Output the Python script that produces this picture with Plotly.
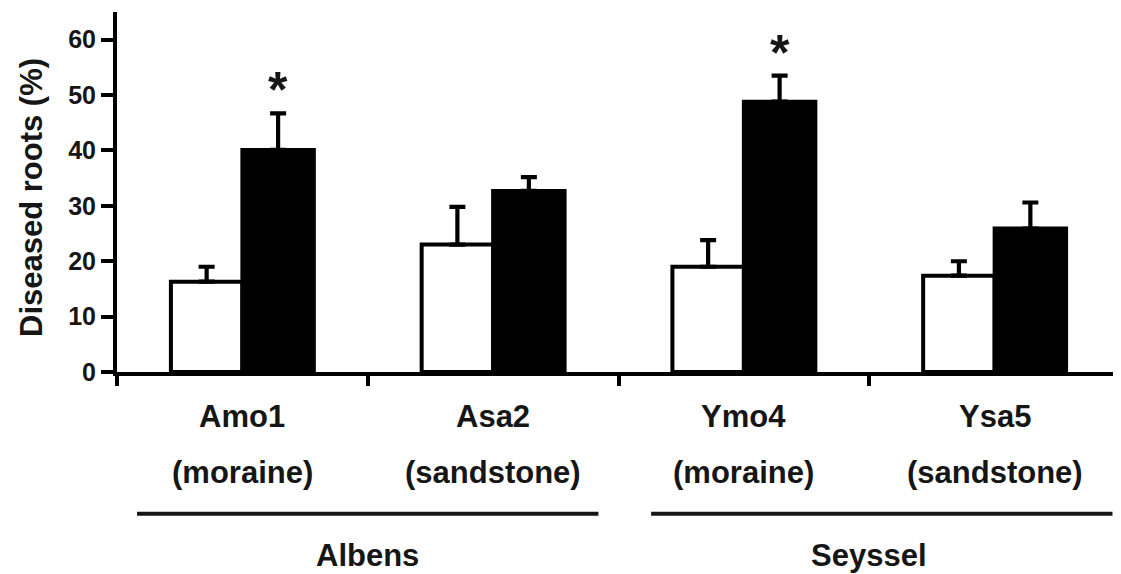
import plotly.graph_objects as go

# ---- data ----
sites = ["Amo1", "Asa2", "Ymo4", "Ysa5"]
soils = ["(moraine)", "(sandstone)", "(moraine)", "(sandstone)"]
regions = ["Albens", "Seyssel"]
region_sites = [[0, 1], [2, 3]]
white_vals = [16.3, 23.0, 19.0, 17.4]
white_err = [2.7, 6.8, 4.8, 2.6]
black_vals = [40.1, 32.7, 48.8, 25.9]
black_err = [6.6, 2.5, 4.7, 4.7]
signif = ["*", "", "*", ""]
y_ticks = [0, 10, 20, 30, 40, 50, 60]

# ---- styling / positions ----
FONT = "Liberation Sans, Arial, sans-serif"
TXT = "#161616"
BW = 0.285
region_line_ext = [(-0.42, 1.42), (1.63, 3.47)]
PAGE_OFFSET = 8  # default body margin of the html page

xs = list(range(len(sites)))

fig = go.Figure()
fig.add_trace(go.Bar(
    x=xs, y=white_vals, width=BW, offset=-BW,
    marker=dict(color="white", line=dict(color="black", width=4)),
    error_y=dict(type="data", symmetric=False, array=white_err,
                 arrayminus=[0] * len(white_err), color="black",
                 thickness=4.2, width=8),
    showlegend=False,
))
fig.add_trace(go.Bar(
    x=xs, y=black_vals, width=BW, offset=0,
    marker=dict(color="black", line=dict(color="black", width=4)),
    error_y=dict(type="data", symmetric=False, array=black_err,
                 arrayminus=[0] * len(black_err), color="black",
                 thickness=4.2, width=8),
    showlegend=False,
))

annotations = []
# significance stars
for i, s in enumerate(signif):
    if s:
        annotations.append(dict(
            x=xs[i] + BW / 2, y=black_vals[i] + black_err[i], xref="x", yref="y",
            text=s, showarrow=False, xanchor="center", yanchor="bottom",
            yshift=-7,
            font=dict(family=FONT, size=50, color=TXT, weight="bold"),
        ))
# category labels
for i in xs:
    annotations.append(dict(
        x=i, y=0, xref="x", yref="paper", text=sites[i], showarrow=False,
        xanchor="center", yanchor="middle", yshift=-44,
        font=dict(family=FONT, size=31, color=TXT, weight="bold"),
    ))
    annotations.append(dict(
        x=i, y=0, xref="x", yref="paper", text=soils[i], showarrow=False,
        xanchor="center", yanchor="middle", yshift=-100,
        font=dict(family=FONT, size=31, color=TXT, weight="bold"),
    ))
# region labels and lines
shapes = []
for r, name in enumerate(regions):
    idx = region_sites[r]
    cx = (idx[0] + idx[-1]) / 2
    annotations.append(dict(
        x=cx, y=0, xref="x", yref="paper", text=name, showarrow=False,
        xanchor="center", yanchor="middle", yshift=-183,
        font=dict(family=FONT, size=31, color=TXT, weight="bold"),
    ))
    x0, x1 = region_line_ext[r]
    shapes.append(dict(
        type="line", xref="x", yref="paper", x0=x0, x1=x1,
        y0=-0.394, y1=-0.394, line=dict(color=TXT, width=4),
    ))
# y-axis title
annotations.append(dict(
    x=0, y=0.5, xref="paper", yref="paper", text="Diseased roots (%)",
    showarrow=False, textangle=-90, xanchor="center", yanchor="middle",
    xshift=-86, yshift=-6,
    font=dict(family=FONT, size=31, color=TXT, weight="bold"),
))

fig.update_layout(
    width=1121 - PAGE_OFFSET, height=574 - PAGE_OFFSET,
    margin=dict(l=117 - PAGE_OFFSET, r=1, t=12 - PAGE_OFFSET, b=202, pad=0),
    paper_bgcolor="white", plot_bgcolor="white",
    barmode="overlay",
    annotations=annotations, shapes=shapes,
    xaxis=dict(
        range=[-0.5, len(sites) - 0.5], showgrid=False, zeroline=False,
        showline=True, linecolor="black", linewidth=4,
        tickvals=[i - 0.5 for i in range(len(sites) + 1)],
        ticks="outside", ticklen=10, tickwidth=3.5, tickcolor="black",
        showticklabels=False, fixedrange=True,
    ),
    yaxis=dict(
        range=[0, 65], showgrid=False, zeroline=False,
        showline=True, linecolor="black", linewidth=4,
        tickvals=y_ticks, ticks="outside", ticklen=12, tickwidth=4,
        tickcolor="black",
        tickfont=dict(family=FONT, size=25, color=TXT, weight="bold"),
        fixedrange=True,
    ),
)

fig.write_html("out.html")
